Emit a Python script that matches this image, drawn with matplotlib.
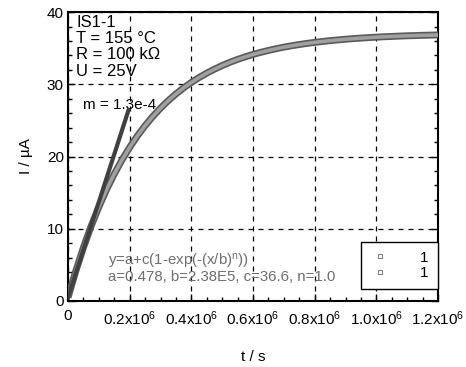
import matplotlib
matplotlib.use("Agg")
import matplotlib.pyplot as plt
from matplotlib.ticker import MultipleLocator, FixedLocator
from matplotlib.lines import Line2D

plt.rcParams["font.family"] = ["Liberation Sans", "DejaVu Sans"]
plt.rcParams["mathtext.fontset"] = "custom"
plt.rcParams["mathtext.rm"] = "Liberation Sans"
plt.rcParams["mathtext.it"] = "Liberation Sans"

t_data = [i * 0.025e6 for i in range(49)]
i_data = [0.48, 4.13, 7.41, 10.37, 13.03, 15.43, 17.59, 19.53, 21.28, 22.86,
          24.28, 25.55, 26.70, 27.74, 28.67, 29.51, 30.26, 30.94, 31.55, 32.10,
          32.60, 33.05, 33.45, 33.81, 34.14, 34.43, 34.69, 34.93, 35.15, 35.34,
          35.51, 35.67, 35.81, 35.93, 36.05, 36.15, 36.24, 36.33, 36.40, 36.47,
          36.53, 36.59, 36.63, 36.68, 36.72, 36.75, 36.79, 36.81, 36.84]

# initial slope line
fit_t = [0.0, 0.196e6]
fit_i = [0.5, 26.4]

x_ticks = [0, 0.2e6, 0.4e6, 0.6e6, 0.8e6, 1.0e6, 1.2e6]
x_labels = ["0", r"0.2x10$^{6}$", r"0.4x10$^{6}$", r"0.6x10$^{6}$",
            r"0.8x10$^{6}$", r"1.0x10$^{6}$", r"1.2x10$^{6}$"]
legend_labels = ["1", "1"]

info_text = "IS1-1\nT = 155 °C\nR = 100 kΩ\nU = 25V"
fit_eq = r"y=a+c(1-exp(-(x/b)$^{n}$))"
fit_par = "a=0.478, b=2.38E5, c=36.6, n=1.0"

fig = plt.figure(figsize=(4.66, 3.67), dpi=100)
ax = fig.add_axes([0.146, 0.180, 0.794, 0.787])

# dense square markers drawn as a textured band
ax.plot(t_data, i_data, color="#5a5a5a", lw=5.0, solid_capstyle="butt", zorder=3)
ax.plot(t_data, i_data, color="#a0a0a0", lw=2.6, solid_capstyle="butt", zorder=3)
ax.plot(fit_t, fit_i, color="#404040", lw=3.0, zorder=4)

ax.set_xlim(0, 1.2e6)
ax.set_ylim(0, 40)
ax.xaxis.set_major_locator(FixedLocator(x_ticks))
ax.set_xticklabels(x_labels)
ax.xaxis.set_minor_locator(MultipleLocator(0.05e6))
ax.yaxis.set_major_locator(MultipleLocator(10))
ax.yaxis.set_minor_locator(MultipleLocator(2))
ax.tick_params(which="both", direction="in", right=True, top=False, labelsize=11,
               width=1.0)
ax.tick_params(axis="x", pad=6)
ax.tick_params(axis="y", pad=3)
ax.tick_params(which="major", length=5)
ax.tick_params(which="minor", length=3)
for s in ax.spines.values():
    s.set_linewidth(1.5)

ax.grid(True, which="major", color="black", ls=(0, (4, 4)), lw=0.9)
ax.set_axisbelow(True)

ax.set_xlabel("t / s", fontsize=11, labelpad=16)
ax.set_ylabel("I / µA", fontsize=11, labelpad=10)

ax.text(0.022, 0.99, info_text, transform=ax.transAxes, ha="left", va="top",
        fontsize=12, linespacing=1.1)
ax.text(0.04, 0.678, "m = 1.3e-4", transform=ax.transAxes, ha="left", va="center",
        fontsize=11)
ax.text(0.108, 0.135, fit_eq, transform=ax.transAxes, ha="left", va="center",
        fontsize=10.8, color="#6e6e6e")
ax.text(0.108, 0.083, fit_par, transform=ax.transAxes, ha="left", va="center",
        fontsize=10.8, color="#6e6e6e")

handles = [Line2D([], [], ls="none", marker="s", ms=3.5, mfc="white", mec="#808080", mew=0.8)
           for _ in legend_labels]
leg = ax.legend(handles, legend_labels, loc="lower right", bbox_to_anchor=(1.0, 0.04),
                borderaxespad=0, fancybox=False, framealpha=1, edgecolor="black",
                fontsize=11, handlelength=1.3, handletextpad=2.0, borderpad=0.6,
                labelspacing=0.1)
leg.get_frame().set_linewidth(1.0)

fig.savefig("out.png", dpi=100)
